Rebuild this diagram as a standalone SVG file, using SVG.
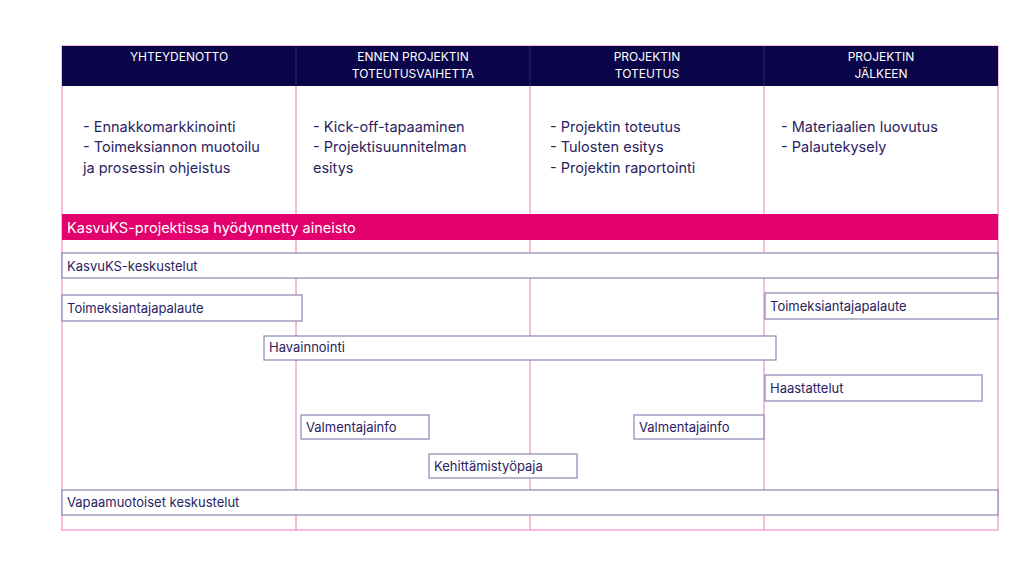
<svg xmlns="http://www.w3.org/2000/svg" width="1024" height="576" viewBox="0 0 1024 576">
<style>
text{font-family:Inter,"Noto Sans",sans-serif;fill:#2a2262}
.h{fill:#fff;font-size:12px;text-anchor:middle}
.b{font-size:14.5px}
.l{font-size:13px}
.bx{fill:#fff;stroke:#8a86b4;stroke-width:1.2}
.pk{stroke:#f07ab8;stroke-width:1;fill:none}
</style>
<rect width="1024" height="576" fill="#fff"/>
<g id="table">
<rect x="62" y="46" width="936" height="484" class="pk"/>
<line x1="296" y1="46" x2="296" y2="530" class="pk"/>
<line x1="530" y1="46" x2="530" y2="530" class="pk"/>
<line x1="764" y1="46" x2="764" y2="530" class="pk"/>
<rect x="62" y="46" width="936" height="40" fill="#0a0548"/>
<line x1="296" y1="46" x2="296" y2="86" stroke="#2a2a6a"/>
<line x1="530" y1="46" x2="530" y2="86" stroke="#2a2a6a"/>
<line x1="764" y1="46" x2="764" y2="86" stroke="#2a2a6a"/>
<text class="h" x="179" y="61">YHTEYDENOTTO</text>
<text class="h" x="413" y="61">ENNEN PROJEKTIN</text>
<text class="h" x="413" y="78">TOTEUTUSVAIHETTA</text>
<text class="h" x="647" y="61">PROJEKTIN</text>
<text class="h" x="647" y="78">TOTEUTUS</text>
<text class="h" x="881" y="61">PROJEKTIN</text>
<text class="h" x="881" y="78">JÄLKEEN</text>
<text class="b" x="83" y="132">- Ennakkomarkkinointi</text>
<text class="b" x="83" y="152">- Toimeksiannon muotoilu</text>
<text class="b" x="83" y="173">ja prosessin ohjeistus</text>
<text class="b" x="313" y="132">- Kick-off-tapaaminen</text>
<text class="b" x="313" y="152">- Projektisuunnitelman</text>
<text class="b" x="313" y="173">esitys</text>
<text class="b" x="550" y="132">- Projektin toteutus</text>
<text class="b" x="550" y="152">- Tulosten esitys</text>
<text class="b" x="550" y="173">- Projektin raportointi</text>
<text class="b" x="781" y="132">- Materiaalien luovutus</text>
<text class="b" x="781" y="152">- Palautekysely</text>
</g>
<g id="banner">
<rect x="62" y="214" width="936" height="26" fill="#e2006c"/>
<text class="b" x="67" y="233" style="fill:#fff">KasvuKS-projektissa hyödynnetty aineisto</text>
</g>
<g id="n1"><rect class="bx" x="62" y="253" width="936" height="25"/><text class="l" x="67" y="271">KasvuKS-keskustelut</text></g>
<g id="n2"><rect class="bx" x="62" y="295" width="240" height="26"/><text class="l" x="67" y="313">Toimeksiantajapalaute</text></g>
<g id="n3"><rect class="bx" x="765" y="293" width="233" height="26"/><text class="l" x="770" y="311">Toimeksiantajapalaute</text></g>
<g id="n4"><rect class="bx" x="264" y="336" width="512" height="24"/><text class="l" x="269" y="352">Havainnointi</text></g>
<g id="n5"><rect class="bx" x="765" y="375" width="217" height="26"/><text class="l" x="770" y="393">Haastattelut</text></g>
<g id="n6"><rect class="bx" x="301" y="415" width="128" height="24"/><text class="l" x="306" y="432">Valmentajainfo</text></g>
<g id="n7"><rect class="bx" x="634" y="415" width="130" height="24"/><text class="l" x="639" y="432">Valmentajainfo</text></g>
<g id="n8"><rect class="bx" x="429" y="454" width="148" height="24"/><text class="l" x="434" y="471">Kehittämistyöpaja</text></g>
<g id="n9"><rect class="bx" x="62" y="490" width="936" height="25"/><text class="l" x="67" y="507">Vapaamuotoiset keskustelut</text></g>
<g id="connectors"/>
</svg>
